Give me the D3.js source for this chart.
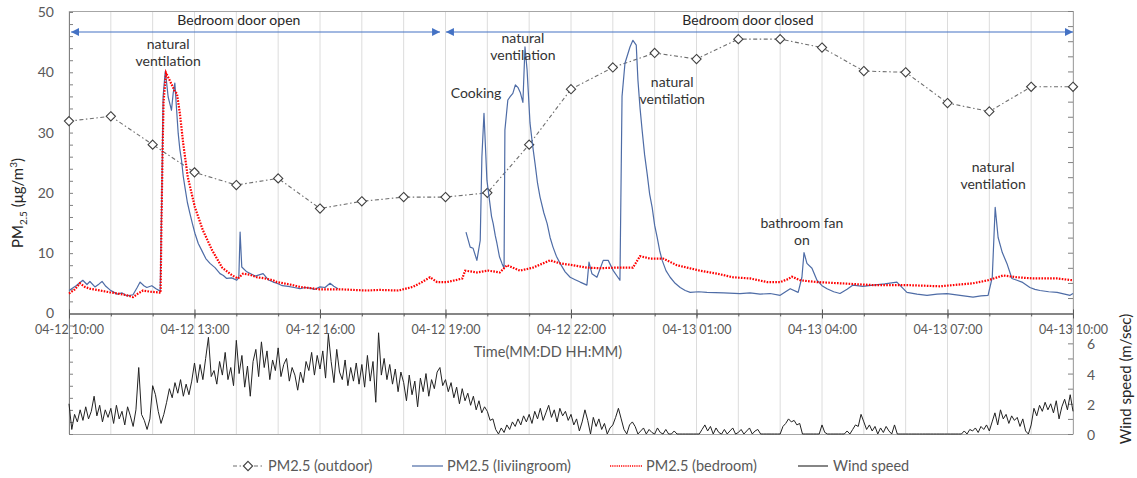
<!DOCTYPE html>
<html><head><meta charset="utf-8">
<script src="https://cdn.jsdelivr.net/npm/d3@7/dist/d3.min.js"></script>
<style>
body{margin:0;background:#fff}
text{font-family:Lato,"Open Sans",sans-serif}
</style>
</head><body>
<svg id="c" width="1137" height="478"></svg>
<script>
// ---------- DATA ----------
// hours after 04-12 10:00
const outdoorHours = [0,1,2,3,4,5,6,7,8,9,10,11,12,13,14,15,16,17,18,19,20,21,22,23,24];
const outdoorValues = [31.9,32.7,28.0,23.4,21.3,22.4,17.4,18.6,19.3,19.3,20.0,28.0,37.2,40.8,43.2,42.2,45.5,45.5,44.1,40.2,40.0,34.9,33.5,37.6,37.6];

const livingHours = [0,0.17,0.33,0.43,0.50,0.62,0.72,0.79,0.88,0.98,1.15,1.27,1.39,1.53,1.63,1.70,1.79,1.86,1.98,2.08,2.18,
  2.22,2.25,2.30,2.33,2.37,2.41,2.45,2.49,2.53,2.57,2.61,2.65,2.69,2.73,2.77,2.83,2.89,2.95,3.01,3.09,3.17,3.27,3.37,3.49,3.61,3.69,3.77,3.89,4.01,4.06,4.09,4.13,4.25,4.45,4.64,4.76,4.88,4.97,5.10,5.24,5.38,5.52,5.64,5.76,5.88,6.00,6.12,6.24,6.33,6.43,
  7.0,
  9.49,9.59,9.66,9.75,9.83,9.87,9.92,9.99,10.06,10.10,10.14,10.19,10.23,10.29,10.35,10.40,10.42,10.49,10.55,10.61,10.67,10.73,10.79,10.85,10.90,10.95,11.02,11.08,11.14,11.20,11.26,11.35,11.43,11.50,11.57,11.65,11.74,11.86,11.98,12.10,12.22,12.38,12.43,12.50,12.62,12.77,12.89,13.01,13.17,
  13.22,13.29,13.41,13.48,13.56,13.60,13.65,13.70,13.76,13.82,13.88,13.94,14.00,14.06,14.12,14.18,14.27,14.37,14.49,14.61,14.73,14.85,15.05,15.25,15.65,16.04,16.28,16.52,16.76,17.00,17.24,17.43,17.52,17.57,17.64,17.76,17.88,18.00,18.12,18.28,18.43,18.60,18.74,18.98,19.22,19.50,19.79,20.03,20.27,20.51,20.75,20.99,21.30,21.61,21.80,21.97,
  22.07,22.14,22.21,22.31,22.42,22.54,22.66,22.78,22.97,23.09,23.21,23.42,23.62,23.80,23.93,24.0];
const livingValues = [3.8,4.6,5.5,4.8,5.3,4.4,4.9,5.3,4.5,3.9,3.2,3.4,2.9,3.1,4.3,5.2,4.6,4.3,4.6,4.1,3.7,
  20,36,40.1,38.5,35.9,34.8,33.7,36.5,38.2,34,29.9,27.2,25.4,22.8,21,18.4,16.6,14.9,13.3,11.6,10.5,9.1,8.3,7.6,6.6,6.3,5.8,5.9,5.5,6.0,13.5,7.7,6.9,6.2,6.6,5.6,5.2,5.0,4.6,4.5,4.3,4.1,4.3,4.2,4.0,4.4,4.3,5.0,4.5,4.1,
  null,
  13.5,11.0,10.8,8.8,12.1,26,33.2,22.1,18.3,16.1,14.9,12.9,11.6,9.4,8.3,7.5,30.4,35.4,36.0,36.5,37.9,37.5,36.6,35.0,44.2,40.4,31.6,28.0,24.9,21.6,19.3,16.7,14.9,12.6,11.0,9.5,8.3,6.9,6.0,5.6,5.2,4.7,8.5,6.6,6.0,8.8,8.8,7.1,5.5,
  36.0,41.5,44.2,45.3,44.5,38.7,34.1,30.4,26.3,23.2,19.8,17.6,14.6,12.6,10.4,8.8,7.1,6.0,5.0,4.3,3.8,3.5,3.6,3.5,3.4,3.3,3.4,3.2,3.3,3.0,4.1,3.5,6.0,10.1,8.3,7.5,5.5,4.6,4.1,3.6,3.3,4.0,4.7,4.5,4.7,4.9,5.2,3.5,3.2,3.0,3.2,3.3,3.0,2.7,2.9,3.0,
  6.0,17.6,12.6,10.1,8.3,5.8,5.5,5.2,4.3,4.0,3.8,3.6,3.5,3.2,3.0,3.3];

const bedroomHours = [0,0.14,0.26,0.38,0.50,0.74,0.98,1.17,1.39,1.53,1.65,1.77,1.94,2.13,2.19,2.21,2.24,2.26,2.32,2.39,2.46,2.53,2.58,2.65,2.73,2.84,3.01,3.20,3.42,3.66,3.90,4.04,4.16,4.33,4.49,4.69,4.88,4.97,5.28,5.52,6.00,6.48,7.12,7.43,7.87,
  8.22,8.44,8.63,8.80,9.04,9.23,9.40,9.47,9.75,10.02,10.30,10.47,10.78,11.09,11.50,11.74,12.05,12.38,12.69,13.10,13.48,13.65,13.89,14.20,14.53,15.08,15.49,15.87,16.28,16.69,17.00,17.19,17.28,17.48,17.88,18.43,19.22,20.03,20.82,21.61,21.97,22.33,22.66,23.05,23.62,24.0];
const bedroomValues = [3.3,4.0,5.0,4.4,4.1,3.8,3.5,3.3,3.0,2.7,3.3,3.8,3.6,3.5,3.4,15,28,35,39.9,38.9,37.9,36.8,36.5,33.2,28.2,22.6,17.6,13.8,10.5,7.6,6.3,5.8,6.6,6.4,6.0,5.8,5.5,5.2,4.8,4.4,4.0,4.0,3.8,3.9,3.8,
  4.4,5.2,6.0,5.2,5.2,5.5,5.8,7.1,6.8,7.1,6.8,8.0,7.1,7.6,8.8,8.3,8.0,7.6,7.5,7.6,7.6,9.5,9.1,9.1,8.0,7.1,6.6,6.0,5.8,5.2,5.2,5.7,6.1,5.5,5.2,5.0,4.7,4.7,4.5,5.0,5.5,6.3,6.0,5.8,5.8,5.5];

// wind speed every 4 minutes from 04-12 10:00 to 04-13 10:00
const windStepMinutes = 4;
const windSpeed = [
 2.0,0.3,1.3,0.8,1.6,0.9,1.8,1.0,1.5,2.5,1.2,1.9,0.8,1.6,1.1,
 1.7,0.7,1.9,1.0,1.5,0.6,1.8,1.2,0.5,1.6,4.4,1.3,0.9,0.3,1.0,
 3.2,2.6,1.5,0.7,1.3,2.1,3.0,2.4,3.4,2.7,3.6,2.5,3.3,2.6,3.5,
 4.7,3.4,4.6,3.6,5.0,6.4,3.8,4.2,3.3,4.8,3.9,5.4,3.6,4.4,3.2,
 6.2,4.0,5.2,3.1,4.5,2.5,4.8,5.6,3.8,6.1,4.4,5.5,3.6,4.9,4.2,
 5.7,3.8,4.6,5.0,3.5,4.4,3.9,2.9,4.1,3.4,4.8,4.2,5.4,3.9,5.2,
 4.3,5.5,3.7,6.6,4.8,3.4,5.6,4.1,3.6,4.9,3.2,4.4,3.5,4.7,3.3,
 4.6,3.1,5.2,3.5,4.8,2.1,6.7,3.9,5.0,3.6,4.6,3.3,4.3,2.8,4.1,
 3.4,2.2,3.9,2.6,3.5,1.8,3.7,2.8,4.0,2.5,3.6,3.0,4.1,4.4,3.2,
 3.6,2.8,3.4,2.4,3.1,2.0,3.0,2.2,2.7,1.9,2.5,1.6,2.2,1.4,1.8,
 1.5,0.9,1.0,0.3,0.0,0.4,0.1,0.6,0.3,0.8,0.5,1.0,0.6,1.2,0.8,
 1.3,0.7,1.5,1.0,1.7,0.9,1.4,1.9,1.1,1.6,0.8,1.7,1.2,1.5,0.9,
 1.3,0.6,1.0,0.2,0.8,1.6,0.9,0.0,1.1,0.5,1.0,0.3,0.7,0.0,0.4,
 0.6,1.1,1.7,1.0,0.3,0.0,0.6,0.8,0.5,0.0,0.2,0.4,0.0,0.3,0.1,
 0.0,0.4,0.1,0.0,0.3,0.0,0.0,0.2,0.0,0.0,0.0,0.0,0.0,0.0,0.0,
 0.0,0.0,0.3,0.6,0.2,0.5,0.0,0.4,0.1,0.0,0.3,0.0,0.2,0.4,0.0,
 0.1,0.3,0.0,0.2,0.4,0.0,0.2,0.3,0.0,0.0,0.0,0.0,0.0,0.0,0.0,
 0.0,0.5,0.7,1.0,0.8,0.9,0.6,0.7,0.0,0.0,0.0,0.0,0.0,0.0,0.0,
 0.6,0.1,0.0,0.0,0.0,0.0,0.0,0.0,0.0,0.2,0.0,0.3,0.6,0.5,1.3,
 0.8,0.3,0.6,0.2,0.5,0.0,0.4,0.1,0.5,0.2,0.0,0.6,0.0,0.0,0.0,
 0.0,0.0,0.0,0.0,0.0,0.0,0.0,0.0,0.0,0.0,0.0,0.0,0.0,0.0,0.0,
 0.0,0.0,0.0,0.0,0.0,0.0,0.2,0.0,0.3,0.2,0.4,0.1,0.5,0.3,0.6,
 0.2,0.8,1.4,0.6,1.6,1.0,1.3,0.7,1.2,0.9,1.1,0.5,1.0,0.2,0.0,
 0.6,1.7,1.2,1.9,1.5,2.1,1.6,2.0,1.4,2.2,1.0,1.8,2.3,1.6,2.6,
 1.5];

const pmTickLabels = [0,10,20,30,40,50];
const windTickLabels = [0,2,4,6];
const timeTickHours = [0,3,6,9,12,15,18,21,24];
const legendLabels = ["PM2.5 (outdoor)","PM2.5 (liviingroom)","PM2.5 (bedroom)","Wind speed"];
const annotations = [
  {lines:["natural","ventilation"], h:2.37, v:44.7},
  {lines:["Cooking"], h:9.73, v:36.5},
  {lines:["natural","ventilation"], h:10.85, v:45.7},
  {lines:["natural","ventilation"], h:14.42, v:38.4},
  {lines:["bathroom fan","on"], h:17.52, v:15.0},
  {lines:["natural","ventilation"], h:22.09, v:24.3}
];
const periods = [
  {label:"Bedroom door open", h0:0.05, h1:8.87, hl:4.06},
  {label:"Bedroom door closed", h0:9.01, h1:24.0, hl:16.23}
];

// ---------- CHART ----------
const START = new Date(2020,3,12,10,0);
const toDate = h => new Date(START.getTime() + h*3600000);
const END = toDate(24);

const svg = d3.select("#c");
const L = 69, R = 1073, T = 11, B = 434;
const x = d3.scaleTime().domain([START, END]).range([L, R]);
const yPM = d3.scaleLinear().domain([-20, 50]).range([B, 12]);
const yW = d3.scaleLinear().domain([0, 28]).range([B, T]);

const axisCol = "#595959";

// vertical gridlines every hour
svg.append("g").selectAll("line").data(d3.timeHour.every(1).range(START, d3.timeMinute.offset(END,1)))
  .join("line").attr("x1", d=>x(d)).attr("x2", d=>x(d)).attr("y1", T).attr("y2", B)
  .attr("stroke", "#dcdcdc").attr("stroke-width", 1);

// frame
svg.append("line").attr("x1",L).attr("x2",R).attr("y1",T+0.5).attr("y2",T+0.5).attr("stroke","#a6a6a6");
svg.append("line").attr("x1",L).attr("x2",R).attr("y1",B+0.5).attr("y2",B+0.5).attr("stroke","#a6a6a6");
svg.append("line").attr("x1",R+0.5).attr("x2",R+0.5).attr("y1",T).attr("y2",B).attr("stroke","#a6a6a6");

// left axis (ticks inward)
const gL = svg.append("g").attr("transform",`translate(${L},0)`)
  .call(d3.axisRight(yPM).tickValues(d3.range(-20, 51, 2)).tickSize(4).tickSizeOuter(0).tickFormat(""));
gL.select(".domain").attr("stroke","#808080");
gL.selectAll(".tick line").attr("stroke","#808080");
const gLl = svg.append("g").attr("transform",`translate(${L},0)`)
  .call(d3.axisLeft(yPM).tickValues(pmTickLabels).tickSize(0).tickPadding(15));
gLl.select(".domain").remove();
gLl.selectAll("text").attr("fill",axisCol).style("font-size","14px");

// right axis (wind)
const gR = svg.append("g").attr("transform",`translate(${R},0)`)
  .call(d3.axisLeft(yW).tickValues(d3.range(0, 29, 1)).tickSize(5).tickSizeOuter(0).tickFormat(""));
gR.select(".domain").attr("stroke","#a6a6a6");
gR.selectAll(".tick line").attr("stroke","#808080");
const gRl = svg.append("g").attr("transform",`translate(${R},0)`)
  .call(d3.axisRight(yW).tickValues(windTickLabels).tickSize(0).tickPadding(14));
gRl.select(".domain").remove();
gRl.selectAll("text").attr("fill",axisCol).style("font-size","14px").attr("dy","0.4em");

// x axis at PM = 0
const y0 = yPM(0);
const majorTicks = timeTickHours.map(toDate);
const gXm = svg.append("g").attr("transform",`translate(0,${y0})`)
  .call(d3.axisBottom(x).ticks(d3.timeHour.every(1)).tickSize(3).tickSizeOuter(0).tickFormat(""));
gXm.select(".domain").attr("stroke","#868686").attr("stroke-width",2);
gXm.selectAll(".tick line").attr("stroke","#595959");
const gXt = svg.append("g").attr("transform",`translate(0,${y0})`)
  .call(d3.axisTop(x).tickValues(majorTicks).tickSize(4).tickSizeOuter(0).tickFormat(""));
gXt.select(".domain").remove();
gXt.selectAll(".tick line").attr("stroke","#595959");
const gX = svg.append("g").attr("transform",`translate(0,${y0})`)
  .call(d3.axisBottom(x).tickValues(majorTicks).tickSize(5).tickSizeOuter(0).tickPadding(7)
    .tickFormat(d3.timeFormat("%m-%d %H:%M")));
gX.select(".domain").remove();
gX.selectAll(".tick line").attr("stroke","#595959");
gX.selectAll("text").attr("fill",axisCol).style("font-size","12.5px");

// axis titles
svg.append("text").attr("x", 548).attr("y", 357).attr("text-anchor","middle")
  .attr("fill",axisCol).style("font-size","14.5px").text("Time(MM:DD HH:MM)");
const yt = svg.append("text").attr("transform","translate(23,203) rotate(-90)").attr("text-anchor","middle")
  .attr("fill","#262626").style("font-size","15px");
yt.append("tspan").text("PM");
yt.append("tspan").attr("dy",4).style("font-size","10px").text("2.5");
yt.append("tspan").attr("dy",-4).text(" (μg/m");
yt.append("tspan").attr("dy",-6).style("font-size","10px").text("3");
yt.append("tspan").attr("dy",6).text(")");
svg.append("text").attr("transform","translate(1131,379) rotate(-90)").attr("text-anchor","middle")
  .attr("fill","#262626").style("font-size","15px").text("Wind speed (m/sec)");

// wind speed
const windData = windSpeed.map((v,i)=>({t: d3.timeMinute.offset(START, i*windStepMinutes), v}));
svg.append("path").datum(windData)
  .attr("d", d3.line().x(d=>x(d.t)).y(d=>yW(d.v)))
  .attr("fill","none").attr("stroke","#222").attr("stroke-width",1).attr("stroke-linejoin","round");

// outdoor
const outData = outdoorHours.map((h,i)=>({t:toDate(h), v:outdoorValues[i]}));
svg.append("path").datum(outData)
  .attr("d", d3.line().x(d=>x(d.t)).y(d=>yPM(d.v)))
  .attr("fill","none").attr("stroke","#6f6f6f").attr("stroke-width",1.1).attr("stroke-dasharray","4,2.5,1.5,2.5");
const diamond = "M0,-4.6L4.6,0L0,4.6L-4.6,0Z";
svg.append("g").selectAll("path").data(outData).join("path")
  .attr("transform", d=>`translate(${x(d.t)},${yPM(d.v)})`).attr("d", diamond)
  .attr("fill","#fff").attr("stroke","#404040").attr("stroke-width",1.1);

// living room
const livData = livingHours.map((h,i)=>({t:toDate(h), v:livingValues[i]}));
svg.append("path").datum(livData)
  .attr("d", d3.line().defined(d=>d.v!==null).x(d=>x(d.t)).y(d=>yPM(d.v)))
  .attr("fill","none").attr("stroke","#4e6ca6").attr("stroke-width",1.2).attr("stroke-linejoin","round");

// bedroom
const bedData = bedroomHours.map((h,i)=>({t:toDate(h), v:bedroomValues[i]}));
svg.append("path").datum(bedData)
  .attr("d", d3.line().x(d=>x(d.t)).y(d=>yPM(d.v)))
  .attr("fill","none").attr("stroke","#ff0000").attr("stroke-width",2.2).attr("stroke-dasharray","1.6,1.3");

// period arrows
const blue = "#4472c4";
const ay = 32;
const defs = svg.append("defs");
defs.append("marker").attr("id","ah").attr("viewBox","0 0 10 10").attr("refX",10).attr("refY",5)
  .attr("markerWidth",8).attr("markerHeight",8).attr("markerUnits","userSpaceOnUse").attr("orient","auto-start-reverse")
  .append("path").attr("d","M0,0L10,5L0,10Z").attr("fill",blue);
periods.forEach(p=>{
  svg.append("line").attr("x1",x(toDate(p.h0))).attr("x2",x(toDate(p.h1))).attr("y1",ay).attr("y2",ay)
    .attr("stroke",blue).attr("stroke-width",1.2).attr("marker-start","url(#ah)").attr("marker-end","url(#ah)");
  svg.append("text").attr("x",x(toDate(p.hl))).attr("y",25).attr("text-anchor","middle")
    .attr("fill","#262626").style("font-size","14px").text(p.label);
});

// annotations
annotations.forEach(a=>{
  const t = svg.append("text").attr("text-anchor","middle").attr("fill","#333").style("font-size","14px");
  a.lines.forEach((ln,i)=>{
    t.append("tspan").attr("x",x(toDate(a.h))).attr("y",yPM(a.v)+5+i*17).text(ln);
  });
});

// legend
const ly = 466;
const lg = svg.append("g");
lg.append("line").attr("x1",233).attr("x2",263).attr("y1",ly).attr("y2",ly)
  .attr("stroke","#6f6f6f").attr("stroke-width",1.1).attr("stroke-dasharray","4,2.5,1.5,2.5");
lg.append("path").attr("transform",`translate(248,${ly})`).attr("d",diamond)
  .attr("fill","#fff").attr("stroke","#404040").attr("stroke-width",1.1);
lg.append("text").attr("x",268).attr("y",ly+5).text(legendLabels[0]);
lg.append("line").attr("x1",412).attr("x2",443).attr("y1",ly).attr("y2",ly).attr("stroke","#4e6ca6").attr("stroke-width",1.2);
lg.append("text").attr("x",447).attr("y",ly+5).text(legendLabels[1]);
lg.append("line").attr("x1",610).attr("x2",642).attr("y1",ly).attr("y2",ly).attr("stroke","#ff0000").attr("stroke-width",1.6).attr("stroke-dasharray","1.2,1");
lg.append("text").attr("x",646).attr("y",ly+5).text(legendLabels[2]);
lg.append("line").attr("x1",798).attr("x2",828).attr("y1",ly).attr("y2",ly).attr("stroke","#222").attr("stroke-width",1.1);
lg.append("text").attr("x",833).attr("y",ly+5).text(legendLabels[3]);
lg.selectAll("text").attr("fill",axisCol).style("font-size","14.5px");
</script>
</body></html>
